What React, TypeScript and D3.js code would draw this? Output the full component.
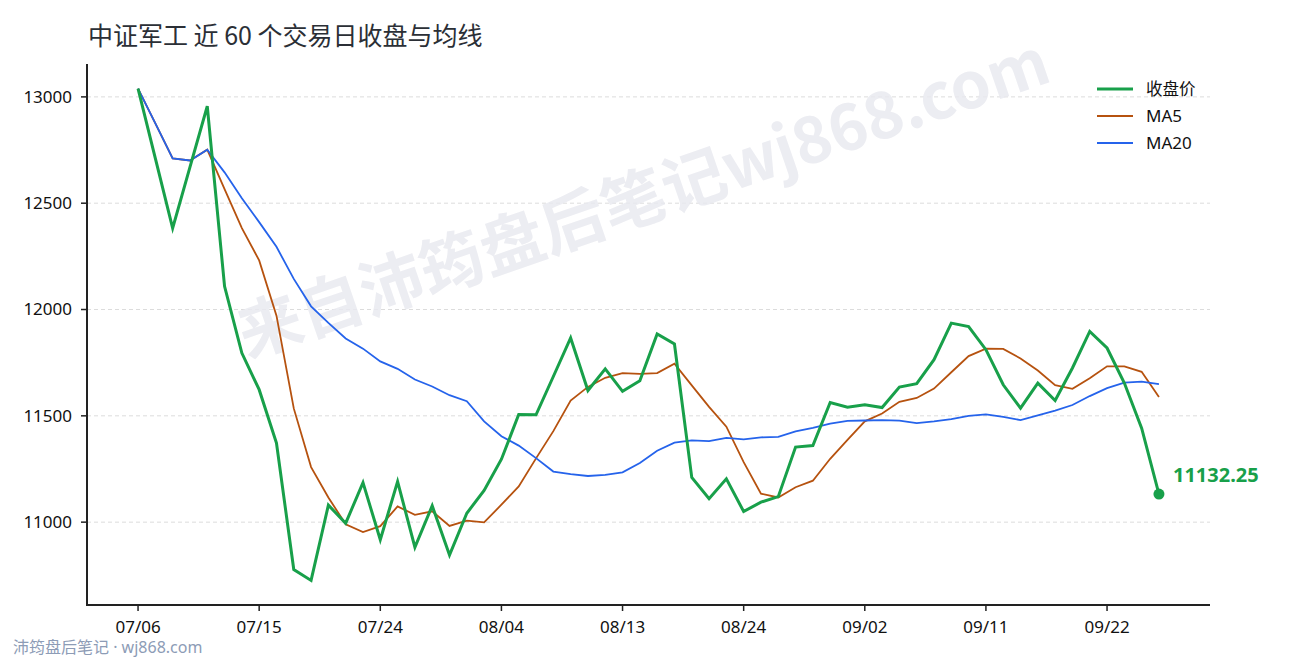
import React from "react";
import * as d3 from "d3";

// 交易日（2020-07-06 ~ 2020-09-25）
const dates = [
  "07/06", "07/07", "07/08", "07/09", "07/10", "07/13", "07/14", "07/15", "07/16", "07/17",
  "07/20", "07/21", "07/22", "07/23", "07/24", "07/27", "07/28", "07/29", "07/30", "07/31",
  "08/03", "08/04", "08/05", "08/06", "08/07", "08/10", "08/11", "08/12", "08/13", "08/14",
  "08/17", "08/18", "08/19", "08/20", "08/21", "08/24", "08/25", "08/26", "08/27", "08/28",
  "08/31", "09/01", "09/02", "09/03", "09/04", "09/07", "09/08", "09/09", "09/10", "09/11",
  "09/14", "09/15", "09/16", "09/17", "09/18", "09/21", "09/22", "09/23", "09/24", "09/25",
];

// 收盘价
const closes = [
  13039, 12711, 12383, 12670, 12956, 12109, 11795, 11623, 11372, 10777,
  10726, 11080, 10995, 11186, 10917, 11191, 10882, 11077, 10845, 11042,
  11149, 11296, 11506, 11505, 11685, 11866, 11619, 11721, 11615, 11665,
  11885, 11838, 11210, 11110, 11204, 11050, 11094, 11120, 11353, 11360,
  11563, 11541, 11552, 11539, 11635, 11651, 11764, 11936, 11920, 11811,
  11646, 11536, 11654, 11572, 11725, 11897, 11819, 11654, 11442, 11132.25,
];

// MA5
const ma5 = [
  13039, 12875, 12711, 12701, 12752, 12566, 12383, 12231, 11971, 11535,
  11259, 11116, 10990, 10953, 10981, 11074, 11034, 11051, 10982, 11007,
  10999, 11082, 11168, 11300, 11428, 11572, 11636, 11679, 11701, 11697,
  11701, 11745, 11643, 11542, 11449, 11282, 11134, 11116, 11164, 11195,
  11298, 11387, 11474, 11511, 11566, 11584, 11628, 11705, 11781, 11816,
  11815, 11770, 11713, 11644, 11627, 11677, 11733, 11733, 11707, 11589,
];

// MA20
const ma20 = [
  13039, 12875, 12711, 12701, 12752, 12645, 12523, 12411, 12295, 12144,
  12015, 11937, 11864, 11816, 11756, 11721, 11671, 11638, 11597, 11569,
  11474, 11404, 11360, 11301, 11238, 11226, 11217, 11222, 11234, 11278,
  11336, 11374, 11385, 11381, 11396, 11389, 11399, 11401, 11427, 11443,
  11463, 11476, 11478, 11480, 11477, 11466, 11474, 11484, 11500, 11507,
  11495, 11480, 11502, 11525, 11551, 11593, 11630, 11656, 11661, 11649,
];

const yTicks = [11000, 11500, 12000, 12500, 13000];
const xTickEvery = 7;

const seriesNames = ["收盘价", "MA5", "MA20"];
const seriesColors = ["#18a04a", "#b6520f", "#2563eb"];
const seriesWidths = [3, 1.8, 1.8];

const W = 1290;
const H = 660;
const left = 87;
const right = 1210;
const top = 64;
const bottom = 605;
const cjk = "'Noto Sans CJK SC', 'Noto Sans', sans-serif";
const latin = "'Noto Sans', 'Noto Sans CJK SC', sans-serif";

export default function App() {
  const n = closes.length;
  const xPad = (n - 1) * 0.05;
  const x = d3.scaleLinear().domain([-xPad, n - 1 + xPad]).range([left, right]);

  const all = [...closes, ...ma5, ...ma20];
  const lo = d3.min(all) as number;
  const hi = d3.max(all) as number;
  const yPad = (hi - lo) * 0.05;
  const y = d3.scaleLinear().domain([lo - yPad, hi + yPad]).range([bottom, top]);

  const line = d3
    .line<number>()
    .x((_, i) => x(i))
    .y((d) => y(d));

  const series = [closes, ma5, ma20];
  const xTicks = d3.range(0, n, xTickEvery);
  const last = n - 1;

  return (
    <svg
      width={W}
      height={H}
      viewBox={`0 0 ${W} ${H}`}
      style={{ position: "absolute", left: 0, top: 0, background: "#fff" }}
      fontFamily={cjk}
    >
      <rect width={W} height={H} fill="#fff" />

      {/* 网格 */}
      {yTicks.map((t) => (
        <line
          key={t}
          x1={left}
          x2={right}
          y1={y(t)}
          y2={y(t)}
          stroke="#dcdcdc"
          strokeWidth={1}
          strokeDasharray="4,3"
        />
      ))}

      {/* 水印 */}
      <text
        x={645}
        y={203}
        transform="rotate(-19 645 203)"
        textAnchor="middle"
        dominantBaseline="middle"
        fontSize={64}
        fontWeight="bold"
        fill="#e9eaf0"
        opacity={0.85}
      >
        来自沛筠盘后笔记wj868.com
      </text>

      {/* 折线：MA5 在下，MA20 其上，收盘价最上 */}
      {[1, 2, 0].map((k) => (
        <path
          key={k}
          d={line(series[k]) || ""}
          fill="none"
          stroke={seriesColors[k]}
          strokeWidth={seriesWidths[k]}
          strokeLinejoin="miter"
        />
      ))}

      {/* 最新点 */}
      <circle cx={x(last)} cy={y(closes[last])} r={5.5} fill={seriesColors[0]} />
      <text
        x={x(last) + 14}
        y={y(closes[last]) - 12.5}
        fontFamily={latin}
        fontSize={20}
        fontWeight="bold"
        fill={seriesColors[0]}
      >
        {closes[last].toFixed(2)}
      </text>

      {/* 坐标轴 */}
      <line x1={left} x2={left} y1={top} y2={bottom + 1} stroke="#222" strokeWidth={2} />
      <line x1={left - 1} x2={right} y1={bottom} y2={bottom} stroke="#222" strokeWidth={2} />
      {yTicks.map((t) => (
        <g key={t} transform={`translate(${left},${y(t)})`}>
          <line x1={-6} x2={0} stroke="#222" strokeWidth={1.5} />
          <text x={-15} dy="0.35em" textAnchor="end" fontFamily={latin} fontSize={17} fill="#111">
            {t}
          </text>
        </g>
      ))}
      {xTicks.map((i) => (
        <g key={i} transform={`translate(${x(i)},${bottom})`}>
          <line y1={0} y2={6} stroke="#222" strokeWidth={1.5} />
          <text y={28} textAnchor="middle" fontFamily={latin} fontSize={17} fill="#111">
            {dates[i]}
          </text>
        </g>
      ))}

      {/* 标题 */}
      <text x={88} y={45} fontSize={25} fill="#2b2f36">
        中证军工 近 60 个交易日收盘与均线
      </text>

      {/* 图例 */}
      {seriesNames.map((name, k) => (
        <g key={name} transform={`translate(1097,${89 + k * 27})`}>
          <line x1={0} x2={36} stroke={seriesColors[k]} strokeWidth={seriesWidths[k]} />
          <text x={49} dy="0.35em" fontFamily={k === 0 ? cjk : latin} fontSize={k === 0 ? 16.5 : 17} fill="#111">
            {name}
          </text>
        </g>
      ))}

      {/* 页脚 */}
      <text x={13} y={653} fontSize={16} fill="#8d9cb6">
        沛筠盘后笔记
        <tspan fontFamily={latin}> · wj868.com</tspan>
      </text>
    </svg>
  );
}
